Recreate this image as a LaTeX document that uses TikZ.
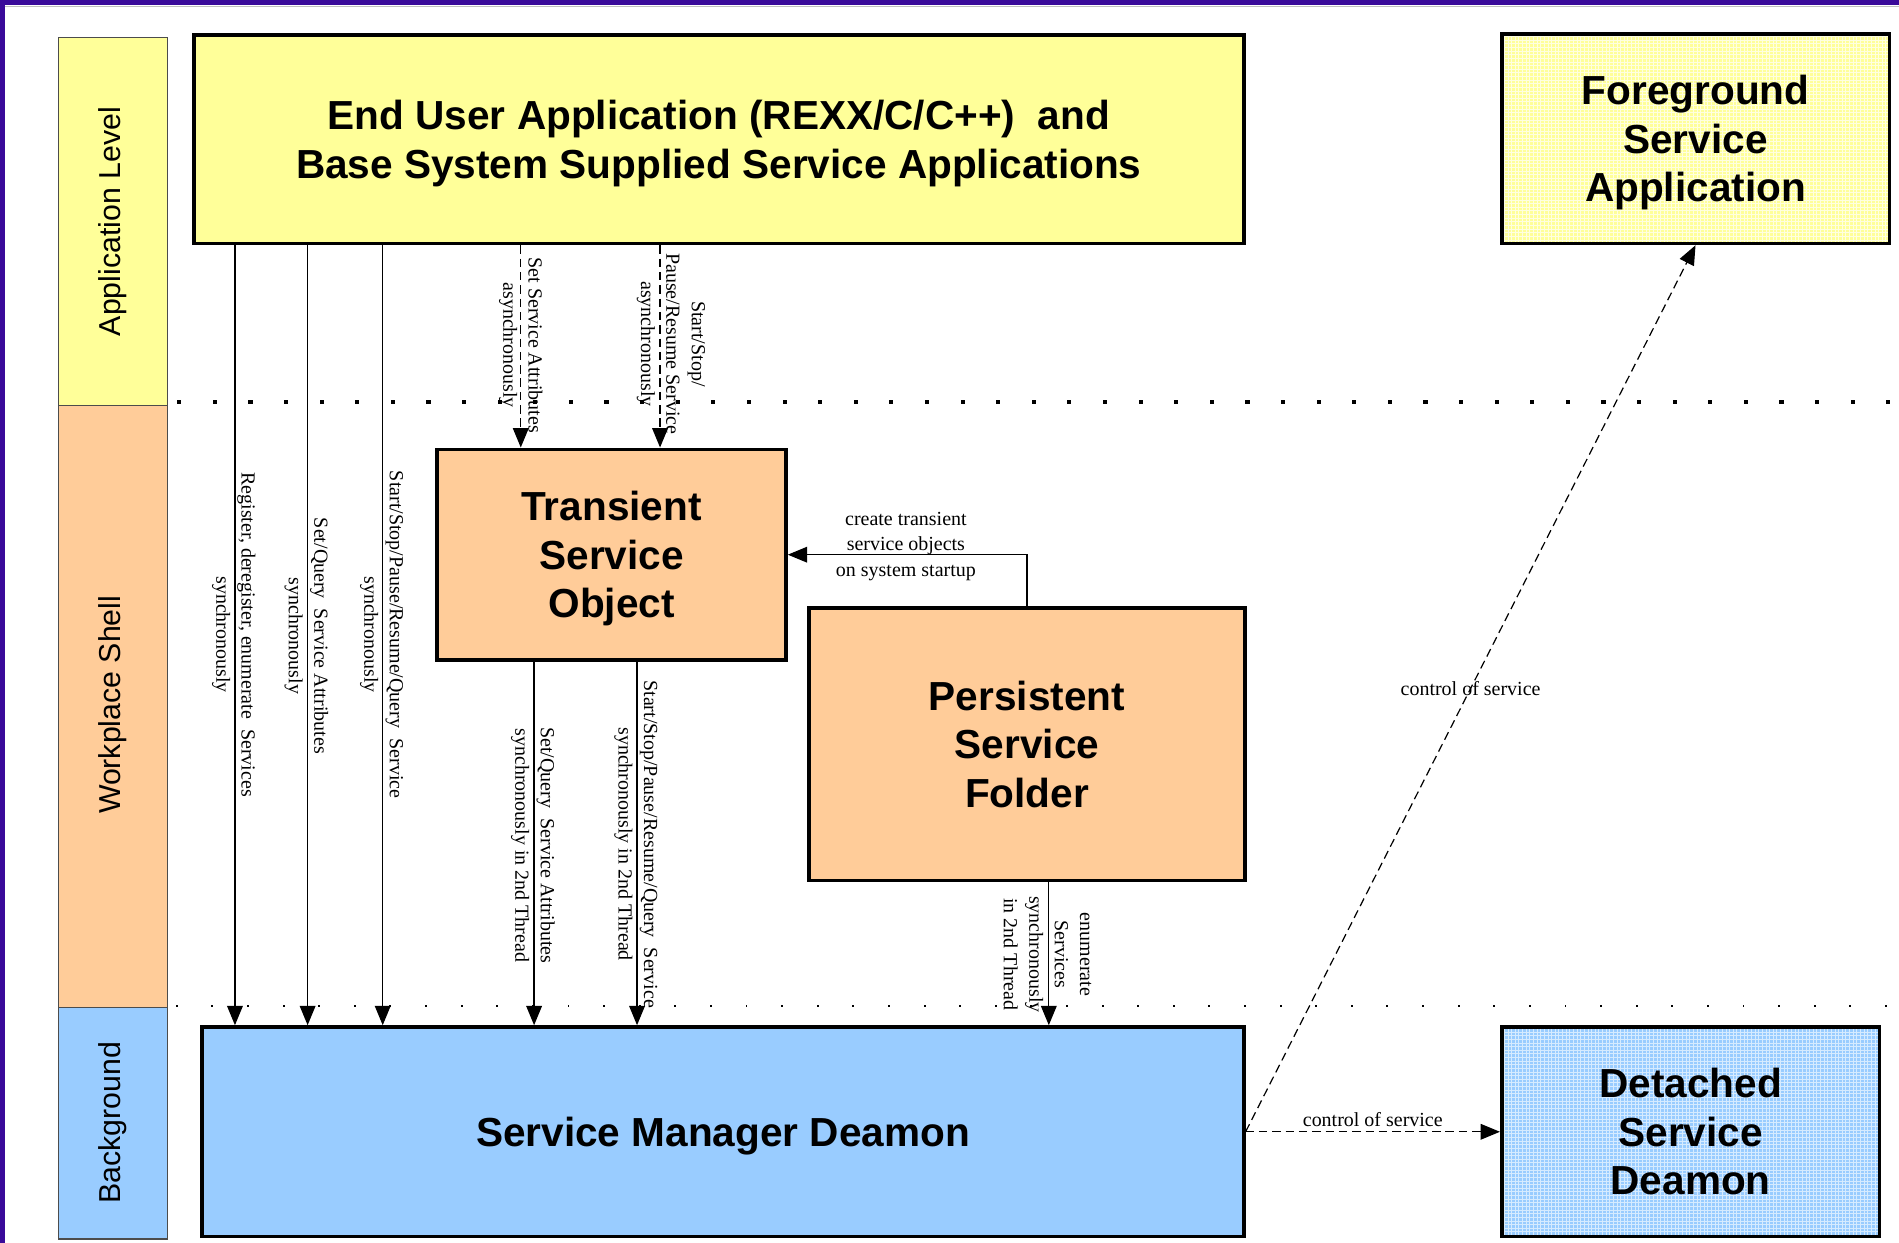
\documentclass[tikz,border=0pt]{standalone}
\usepackage{fontspec}
\setmainfont{Liberation Serif}
\setsansfont{Liberation Sans}
\usetikzlibrary{arrows.meta,patterns}
\definecolor{appyellow}{HTML}{FFFF99}
\definecolor{shellorange}{HTML}{FFCC99}
\definecolor{bgblue}{HTML}{99CCFF}
\definecolor{framepurple}{HTML}{3A0A9A}
\begin{document}
\begin{tikzpicture}[x=1pt,y=-1pt,
  bigbox/.style={draw=black, line width=3pt, inner sep=0pt},
  bigtext/.style={align=center, inner sep=0pt,
    font=\sffamily\bfseries\fontsize{33.5}{40}\selectfont},
  gridfill/.style={path picture={\fill[pattern=grid, pattern color=#1]
    (path picture bounding box.south west) rectangle (path picture bounding box.north east);}},
  band/.style={draw=black!70, line width=1pt},
  bandtext/.style={font=\sffamily\fontsize{25}{30}\selectfont, rotate=90, inner sep=0pt},
  lbl/.style={font=\fontsize{16.5}{21}\selectfont, align=center, inner sep=0pt},
  vlbl/.style={lbl, rotate=-90},
  arr/.style={line width=1pt, -{Triangle[width=13pt,length=16pt]}},
  darr/.style={arr, dash pattern=on 7pt off 4pt},
]
\useasboundingbox (0,0) rectangle (1568,1026);
% outer frame
\fill[framepurple] (0,0) rectangle (1568,4);
\fill[framepurple] (0,0) rectangle (4,1026);
\draw[black!25, line width=0.8pt] (4,5) -- (1568,5);

% level bands
\draw[band, fill=appyellow] (48,31) rectangle (138,335);
\draw[band, fill=shellorange] (48,335) rectangle (138,832);
\draw[band, fill=bgblue] (48,832) rectangle (138,1023);
\node[bandtext] (lvapp) at (93,183) {Application Level};
\node[bandtext] (lvshell) at (93,582) {Workplace Shell};
\node[bandtext] (lvbg) at (93,927) {Background};

% separators
\foreach \i in {0,...,48} {
  \fill (148+29.4*\i-1.7,330.5) rectangle ++(3.4,3.4);
}
\foreach \i in {0,...,48} {
  \fill (146+29.4*\i-0.8,829.5) rectangle ++(1.6,1.6);
}

% boxes
\node[bigbox, fill=appyellow, minimum width=867, minimum height=172] (eua) at (593.5,115) {};
\node[bigtext] (euat) at ([yshift=-3.5pt]eua.center)
  {End User Application (REXX/C/C++)\ \ and\\Base System Supplied Service Applications};
\node[bigbox, fill=appyellow, gridfill=white!70!appyellow, minimum width=320, minimum height=173] (fsa) at (1400,114.5) {};
\node[bigtext] (fsat) at ([yshift=-3.5pt]fsa.center) {Foreground\\Service\\Application};
\node[bigbox, fill=shellorange, minimum width=288, minimum height=174] (tso) at (505,458) {};
\node[bigtext] (tsot) at ([yshift=-3.5pt]tso.center) {Transient\\Service\\Object};
\node[bigbox, fill=shellorange, minimum width=360, minimum height=225] (psf) at (848,614.5) {};
\node[bigtext] (psft) at ([yshift=0pt]psf.center) {Persistent\\Service\\Folder};
\node[bigbox, fill=bgblue, minimum width=860, minimum height=173] (smd) at (597,934.5) {};
\node[bigtext] (smdt) at ([yshift=-3.5pt]smd.center) {Service Manager Deamon};
\node[bigbox, fill=bgblue, gridfill=white!60!bgblue, minimum width=312, minimum height=173] (dsd) at (1396,934.5) {};
\node[bigtext] (dsdt) at ([yshift=0pt]dsd.center) {Detached\\Service\\Deamon};

% synchronous calls from application to daemon
\draw[arr] (194,0 |- eua.south) -- (194,0 |- smd.north);
\draw[arr] (254,0 |- eua.south) -- (254,0 |- smd.north);
\draw[arr] (316,0 |- eua.south) -- (316,0 |- smd.north);
\node[vlbl] (l1) at (193,524) {Register, deregister, enumerate~ Services\\synchronously};
\node[vlbl] (l2) at (253,525) {Set/Query~ Service Attributes\\synchronously};
\node[vlbl] (l3) at (315,524) {Start/Stop/Pause/Resume/Query~ Service\\synchronously};

% asynchronous calls to transient object
\draw[darr] (430,0 |- eua.south) -- (430,0 |- tso.north);
\draw[darr] (545,0 |- eua.south) -- (545,0 |- tso.north);
\node[vlbl] (l4) at (430,285) {Set Service Attributes\\asynchronously};
\node[vlbl] (l5) at (554,284) {Start/Stop/\\Pause/Resume Service\\asynchronously};

% transient object to daemon
\draw[arr] (441,0 |- tso.south) -- (441,0 |- smd.north);
\draw[arr] (526,0 |- tso.south) -- (526,0 |- smd.north);
\node[vlbl] (l6) at (440,698) {Set/Query~ Service Attributes\\synchronously in 2nd Thread};
\node[vlbl] (l7) at (525,697) {Start/Stop/Pause/Resume/Query~ Service\\synchronously in 2nd Thread};

% persistent folder
\draw[arr] (866,0 |- psf.south) -- (866,0 |- smd.north);
\node[vlbl] (l8) at (865,788) {enumerate\\Services\\synchronously\\in 2nd Thread};
\coordinate (bend) at (848,458);
\draw[arr] (psf.north) -- (bend) -- (tso.east |- bend);
\node[lbl] (l9) at (748,451) {create transient\\service objects\\on system startup};

% control of service
\draw[darr] (smd.east) -- (dsd.west) node[lbl, midway, above=4pt] (l10) {control of service};
\draw[darr] (smd.east) -- (fsa.south) node[lbl, midway] (l11) {control of service};
\end{tikzpicture}
\end{document}
